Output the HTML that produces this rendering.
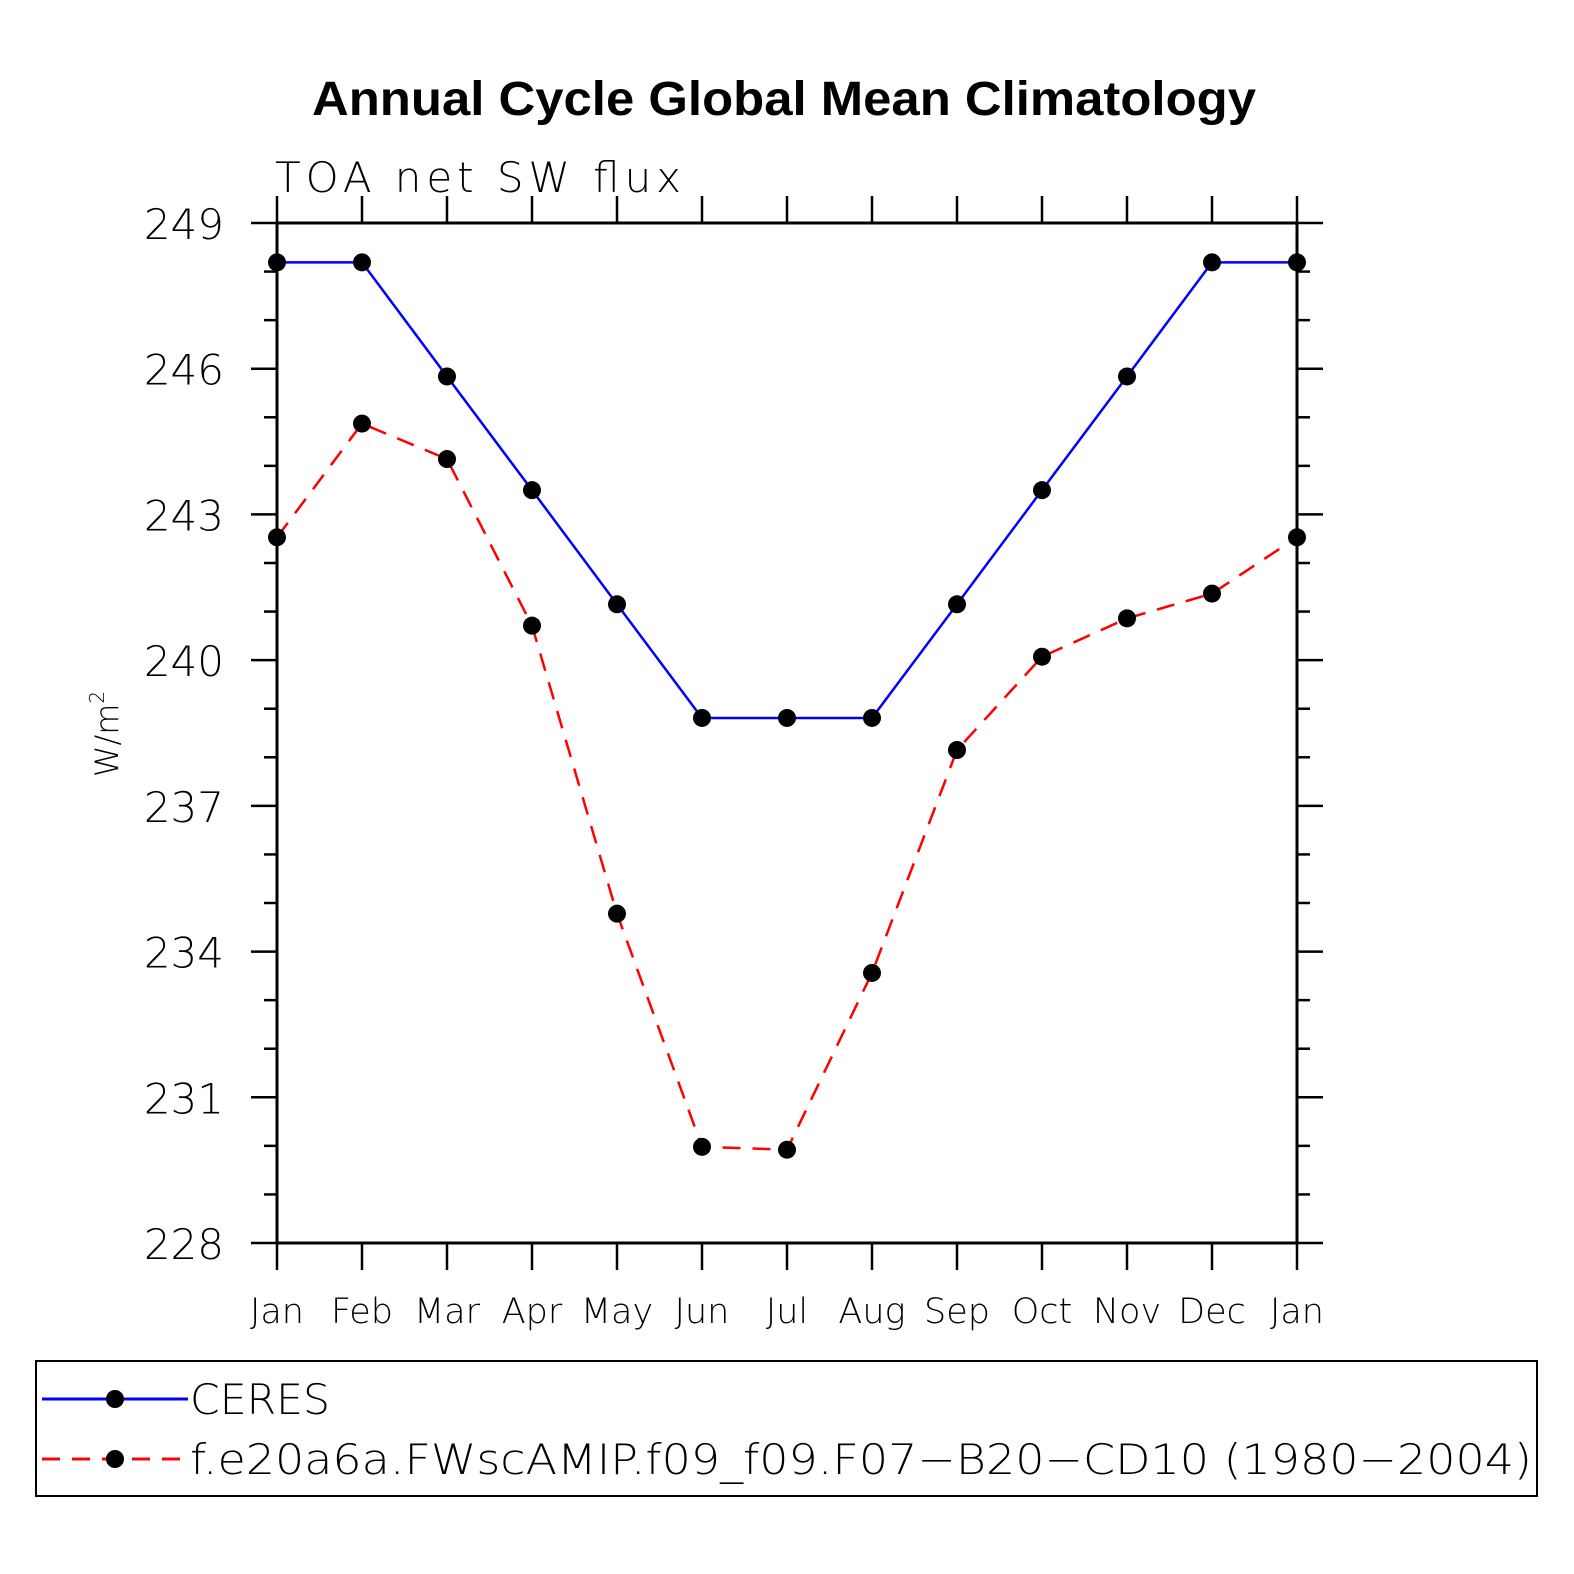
<!DOCTYPE html>
<html><head><meta charset="utf-8"><style>
html,body{margin:0;padding:0;background:#fff;overflow:hidden;width:100%;height:100%}
svg{display:block;width:100vw;height:100vh}
text{font-family:"DejaVu Sans","Liberation Sans",sans-serif;font-weight:200}
</style></head><body>
<svg id="chart" viewBox="0 0 1574 1574" preserveAspectRatio="none" xmlns="http://www.w3.org/2000/svg">
<text x="312" y="115" textLength="944" lengthAdjust="spacingAndGlyphs" style="font-family:'Liberation Sans',sans-serif;font-weight:bold" font-size="48">Annual Cycle Global Mean Climatology</text>
<text x="275" y="192" font-size="42" textLength="406" lengthAdjust="spacing">TOA net SW flux</text>
<text transform="translate(118,734) rotate(-90)" text-anchor="middle" font-size="32">W/m<tspan font-size="20" dy="-14">2</tspan></text>
<g id="axes"></g>
<g id="series"></g>
<g>
<rect x="36" y="1361" width="1501" height="135" fill="none" stroke="#000" stroke-width="2"/>
<line x1="42" y1="1399" x2="188" y2="1399" stroke="#00f" stroke-width="3"/>
<circle cx="115" cy="1399" r="9"/>
<text x="190" y="1414" font-size="42" textLength="140" lengthAdjust="spacingAndGlyphs">CERES</text>
<line x1="42" y1="1459" x2="188" y2="1459" stroke="#f00" stroke-width="3" stroke-dasharray="18,12"/>
<circle cx="115" cy="1459" r="9"/>
<text x="190" y="1474" font-size="42" textLength="1342" lengthAdjust="spacingAndGlyphs">f.e20a6a.FWscAMIP.f09_f09.F07−B20−CD10 (1980−2004)</text>
</g>
</svg>
<script>
const months=["Jan","Feb","Mar","Apr","May","Jun","Jul","Aug","Sep","Oct","Nov","Dec","Jan"];
const ceres=[248.19,248.19,245.84,243.5,241.15,238.81,238.81,238.81,241.15,243.5,245.84,248.19,248.19];
const model=[242.53,244.87,244.14,240.71,234.78,229.98,229.92,233.56,238.15,240.07,240.86,241.37,242.53];
const yTicks=[228,231,234,237,240,243,246,249];
const NS="http://www.w3.org/2000/svg";
const X0=277,X1=1297,Y0=1243,Y1=223,YMIN=228,YMAX=249;
function xs(i){return X0+(X1-X0)*i/(months.length-1);}
function ys(v){return Y0-(v-YMIN)/(YMAX-YMIN)*(Y0-Y1);}
function mk(tag,attrs,parent){const e=document.createElementNS(NS,tag);for(const k in attrs)e.setAttribute(k,attrs[k]);parent.appendChild(e);return e;}
const axes=document.getElementById('axes');
const frame=mk('rect',{x:X0,y:Y1,width:X1-X0,height:Y0-Y1,fill:'none',stroke:'#000','stroke-width':3},axes);


for(let v=YMIN;v<=YMAX;v++){
  const y=ys(v);const major=yTicks.includes(v);const L=major?26:13;
  const t1=mk('line',{x1:X0-L,y1:y,x2:X0,y2:y,stroke:'#000','stroke-width':2.5},axes);
  
  
  const t2=mk('line',{x1:X1,y1:y,x2:X1+L,y2:y,stroke:'#000','stroke-width':2.5},axes);
  
  
  if(major){
    const tx=mk('text',{x:X0-53,y:y+16,'text-anchor':'end','font-size':42},axes);
    
    
    tx.textContent=v;
  }
}
months.forEach((m,i)=>{
  const x=xs(i);
  const b=mk('line',{x1:x,y1:Y0,x2:x,y2:Y0+27,stroke:'#000','stroke-width':2.5},axes);
  
  
  const t=mk('line',{x1:x,y1:Y1-27,x2:x,y2:Y1,stroke:'#000','stroke-width':2.5},axes);
  
  
  const tx=mk('text',{x:x,y:1323,'text-anchor':'middle','font-size':35},axes);
  
  
  tx.textContent=m;
});
const ser=document.getElementById('series');
function draw(vals,color,dash,name){
  const pts=vals.map((v,i)=>xs(i)+','+ys(v)).join(' ');
  const pl=mk('polyline',{points:pts,fill:'none',stroke:color,'stroke-width':2.5,'stroke-dasharray':dash},ser);
  
  
  vals.forEach((v,i)=>{
    const c=mk('circle',{cx:xs(i),cy:ys(v),r:9,fill:'#000'},ser);
    
    
  });
}
draw(model,'#f00','18,12','model');
draw(ceres,'#00f','none','ceres');
</script>
</body></html>
